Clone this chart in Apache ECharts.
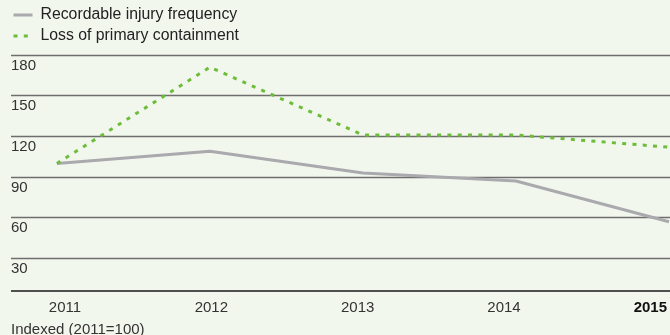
<!DOCTYPE html>
<html>
<head>
<meta charset="utf-8">
<script src="https://cdn.jsdelivr.net/npm/echarts@6/dist/echarts.min.js"></script>
<style>
  html, body { margin: 0; padding: 0; background: #f2f7ed; }
  #chart { width: 670px; height: 335px; }
</style>
</head>
<body>
<div id="chart"></div>
<script>
// chart data
const years = ['2011', '2012', '2013', '2014', '2015']
const injuryFrequency = [100, 109, 93, 87, 57]
const primaryContainment = [100, 171, 121, 121, 112]
const seriesNames = ['Recordable injury frequency', 'Loss of primary containment']
const footnote = 'Indexed (2011=100)'

const font = 'Liberation Sans, Arial, sans-serif'
const chart = echarts.init(document.getElementById('chart'))

// x position of each year is its index, plotted on a value axis
const toPoints = (list) => list.map((v, i) => [i, v])

chart.setOption({
  animation: false,
  backgroundColor: '#f2f7ed',
  textStyle: { fontFamily: font },
  title: {
    text: footnote,
    left: 11,
    top: 322,
    padding: 0,
    textStyle: { fontSize: 15, fontWeight: 'normal', color: '#333', fontFamily: font }
  },
  legend: {
    orient: 'vertical',
    left: 12,
    top: 7,
    padding: 0,
    itemWidth: 19,
    itemHeight: 14,
    itemGap: 5,
    data: seriesNames,
    itemStyle: { color: 'transparent', borderWidth: 0, opacity: 0 },
    lineStyle: { width: 3 },
    textStyle: { fontSize: 15.8, color: '#222', fontFamily: font, padding: [0, 0, 0, 3] }
  },
  grid: [
    { left: 11, right: 0, top: 55, bottom: 36 },
    { left: 65, right: 17, top: 100, bottom: 44 }
  ],
  xAxis: [
    {
      type: 'value',
      gridIndex: 0,
      min: -0.3,
      max: 4.0065,
      axisLine: { show: false },
      axisTick: { show: false },
      axisLabel: { show: false },
      splitLine: { show: false }
    },
    {
      type: 'category',
      gridIndex: 1,
      data: years,
      boundaryGap: false,
      axisLine: { show: false },
      axisTick: { show: false },
      axisLabel: {
        margin: 9,
        fontSize: 15,
        color: '#333',
        fontFamily: font,
        formatter: function (value, index) {
          return index === years.length - 1 ? '{b|' + value + '}' : value
        },
        rich: {
          b: { fontSize: 15, fontWeight: 'bold', color: '#111', fontFamily: font }
        }
      }
    }
  ],
  yAxis: [
    {
      type: 'value',
      gridIndex: 0,
      min: 0,
      max: 180,
      interval: 30,
      axisLine: { show: false },
      axisTick: { show: false },
      axisLabel: {
        inside: true,
        margin: 0,
        showMinLabel: false,
        verticalAlign: 'top',
        padding: [3, 0, 0, 0],
        fontSize: 15,
        color: '#333',
        fontFamily: font
      },
      splitLine: {
        show: true,
        showMinLine: false,
        lineStyle: { color: '#6e6e6e', width: 1.3 }
      }
    },
    {
      type: 'value',
      gridIndex: 1,
      show: false
    }
  ],
  series: [
    {
      name: seriesNames[0],
      type: 'line',
      xAxisIndex: 0,
      yAxisIndex: 0,
      data: toPoints(injuryFrequency),
      symbol: 'none',
      lineStyle: { color: '#a9a9ae', width: 3 },
      itemStyle: { color: '#a9a9ae' },
      // baseline of the plot area
      markLine: {
        silent: true,
        symbol: 'none',
        label: { show: false },
        lineStyle: { color: '#1a1a1a', width: 1.5, type: 'solid' },
        data: [{ yAxis: 6 }]
      }
    },
    {
      name: seriesNames[1],
      type: 'line',
      xAxisIndex: 0,
      yAxisIndex: 0,
      data: toPoints(primaryContainment),
      symbol: 'none',
      lineStyle: { color: '#6dbd3b', width: 3, type: [4, 6.3], cap: 'butt' },
      itemStyle: { color: '#6dbd3b' }
    }
  ]
})
</script>
</body>
</html>
